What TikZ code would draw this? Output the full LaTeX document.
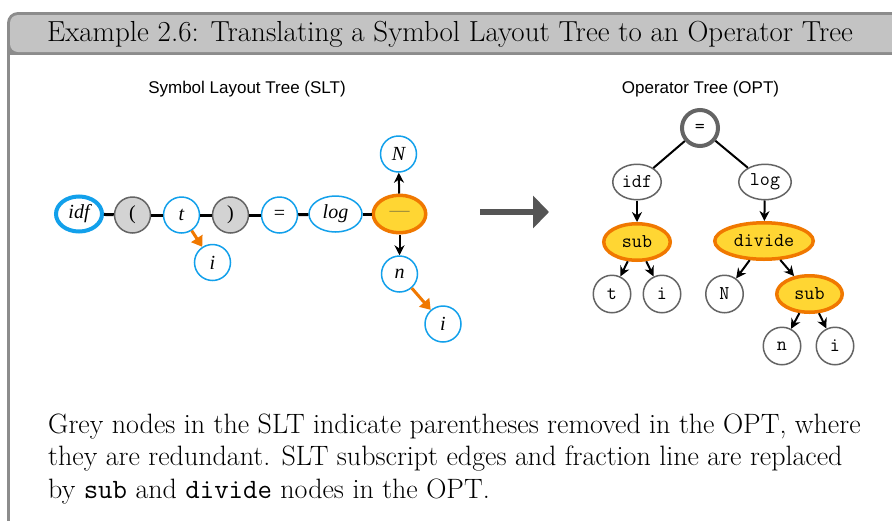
\documentclass[tikz,border=0pt]{standalone}
\usepackage{fontspec}
\setsansfont{Liberation Sans}
\newfontfamily\slfont{Liberation Serif}
\usetikzlibrary{shapes.geometric,arrows.meta}
\definecolor{sltblue}{RGB}{18,160,235}
\definecolor{fracyellow}{RGB}{255,214,51}
\definecolor{fracorange}{RGB}{240,120,0}
\definecolor{pargray}{RGB}{211,211,211}
\definecolor{nodegray}{RGB}{100,100,100}
\definecolor{framegray}{RGB}{140,140,140}
\definecolor{titlegray}{RGB}{195,195,195}
\definecolor{arrowgray}{RGB}{85,85,85}
\definecolor{dashol}{RGB}{150,135,60}
\tikzset{
  sltc/.style={circle, draw=sltblue, line width=1.5, fill=white, minimum size=36, inner sep=1,
    font=\fontsize{20}{24}\slfont\itshape},
  slte/.style={ellipse, draw=sltblue, line width=1.5, fill=white, inner sep=1,
    font=\fontsize{20}{24}\slfont\itshape},
  parc/.style={circle, draw=nodegray, line width=1.5, fill=pargray, minimum size=36, inner sep=1,
    font=\fontsize{20}{24}\slfont},
  frac/.style={ellipse, draw=fracorange, line width=3.5, fill=fracyellow, inner sep=1},
  optc/.style={circle, draw=nodegray, line width=1.5, fill=white, minimum size=37.5, inner sep=1,
    font=\fontsize{19.5}{22}\ttfamily},
  opte/.style={ellipse, draw=nodegray, line width=1.5, fill=white, inner sep=1,
    font=\fontsize{19.5}{22}\ttfamily},
  optop/.style={ellipse, draw=fracorange, line width=3.5, fill=fracyellow, inner sep=1,
    font=\fontsize{19.5}{22}\ttfamily},
  hlink/.style={line width=3, black},
  blarrow/.style={line width=2, black, -{Stealth[length=10,width=10]}},
  orarrow/.style={line width=3, fracorange, -{Triangle[length=10,width=13]}},
  plainlink/.style={line width=2, black},
}
\begin{document}
\begin{tikzpicture}[x=1pt,y=-1pt]
\useasboundingbox (0,0) rectangle (892,520);
% frame
\fill[framegray, rounded corners=11] (7,12) rectangle (910,540);
\fill[titlegray, rounded corners=8] (10,15) rectangle (907,52);
\fill[white] (10,55) rectangle (907,537);
\node[anchor=base, font=\fontsize{29}{33}\selectfont] (title) at (450,41)
  {Example 2.6: Translating a Symbol Layout Tree to an Operator Tree};
% section labels
\node[font=\fontsize{17}{20}\sffamily] (sltlab) at (247,89) {Symbol Layout Tree (SLT)};
\node[font=\fontsize{17}{20}\sffamily] (optlab) at (700.5,89) {Operator Tree (OPT)};
% SLT
\node[slte, line width=4, minimum width=46, minimum height=35] (idf) at (79,214) {idf};
\node[parc] (lp) at (132.5,215) {(};
\node[sltc] (t) at (181.5,215) {t};
\node[parc] (rp) at (230.5,215) {)};
\node[sltc, font=\fontsize{20}{24}\slfont] (eq) at (279.5,215) {=};
\node[slte, minimum width=53, minimum height=36] (log) at (335.5,214) {log};
\node[frac, minimum width=52.5, minimum height=37.5, font=\fontsize{20}{24}\slfont] (frac) at (399.5,214) {\color{dashol}—};
\node[sltc] (N) at (398.5,154) {N};
\node[sltc] (n) at (399.5,274) {n};
\node[sltc] (ti) at (212.5,262.5) {i};
\node[sltc] (ni) at (443,324) {i};
\draw[hlink] (idf) -- (lp);
\draw[hlink] (lp) -- (t);
\draw[hlink] (t) -- (rp);
\draw[hlink] (rp) -- (eq);
\draw[hlink] (eq) -- (log);
\draw[hlink] (log) -- (frac);
\draw[blarrow] (frac) -- (N);
\draw[blarrow] (frac) -- (n);
\draw[orarrow] (t) -- (ti);
\draw[orarrow] (n) -- (ni);
% big arrow
\coordinate (bigA) at (480,212);
\coordinate (bigB) at (549,212);
\draw[arrowgray, line width=6, -{Triangle[length=16,width=32]}] (bigA) -- (bigB);
% OPT
\node[optc, line width=4, minimum size=36] (root) at (700,128) {=};
\node[opte, minimum width=48.5, minimum height=35.5] (idf2) at (637,182) {idf};
\node[opte, minimum width=52.5, minimum height=35.5] (log2) at (765,182) {log};
\node[optop, minimum width=66.5, minimum height=36.5] (sub1) at (637,242) {sub};
\node[optop, minimum width=98.5, minimum height=36.5] (div) at (764,241) {divide};
\node[optc] (t2) at (612,294) {t};
\node[optc] (i2) at (662,294) {i};
\node[optc] (N2) at (724.5,294) {N};
\node[optop, minimum width=65.5, minimum height=36.5] (sub2) at (809.5,294) {sub};
\node[optc] (n2) at (782,346) {n};
\node[optc] (i3) at (835,346) {i};
\draw[plainlink] (root) -- (idf2);
\draw[plainlink] (root) -- (log2);
\draw[blarrow] (idf2) -- (sub1);
\draw[blarrow] (log2) -- (div);
\draw[blarrow] (sub1) -- (t2);
\draw[blarrow] (sub1) -- (i2);
\draw[blarrow] (div) -- (N2);
\draw[blarrow] (div) -- (sub2);
\draw[blarrow] (sub2) -- (n2);
\draw[blarrow] (sub2) -- (i3);
% body text
\node[anchor=base west, align=left, inner sep=0, font=\fontsize{28}{32.5}\selectfont] (body) at (48,498)
  {Grey nodes in the SLT indicate parentheses removed in the OPT, where\\
   they are redundant. SLT subscript edges and fraction line are replaced\\
   by \texttt{sub} and \texttt{divide} nodes in the OPT.};
\end{tikzpicture}
\end{document}
